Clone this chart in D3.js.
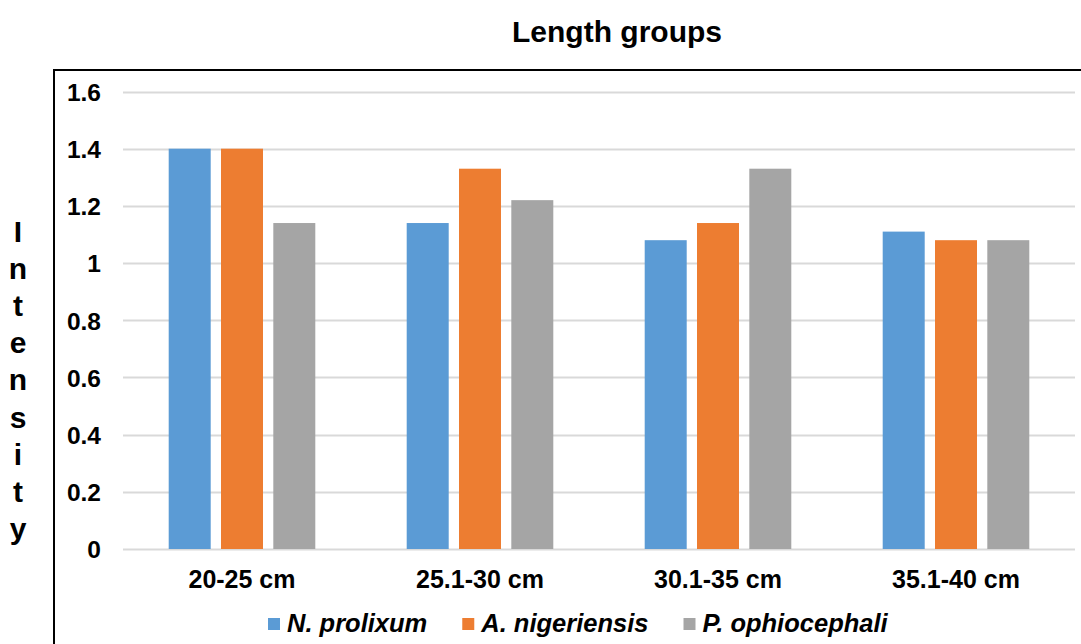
<!DOCTYPE html>
<html>
<head>
<meta charset="utf-8">
<script src="https://cdn.jsdelivr.net/npm/d3@7"></script>
<style>
  html, body { margin: 0; padding: 0; background: #fff; }
  svg { display: block; font-family: "Liberation Sans", Arial, sans-serif; }
</style>
</head>
<body>
<svg id="chart" width="1081" height="644"></svg>
<script>
// Length classes on the x axis
const categories = ["20-25 cm", "25.1-30 cm", "30.1-35 cm", "35.1-40 cm"];
// Parasite species shown in the legend
const seriesNames = ["N. prolixum", "A. nigeriensis", "P. ophiocephali"];
// Intensity per species, one value per length class
const nProlixum = [1.4, 1.14, 1.08, 1.11];
const aNigeriensis = [1.4, 1.33, 1.14, 1.08];
const pOphiocephali = [1.14, 1.22, 1.33, 1.08];
const yTicks = [0, 0.2, 0.4, 0.6, 0.8, 1, 1.2, 1.4, 1.6];
const yLabel = "Intensity";
const title = "Length groups";

const seriesValues = [nProlixum, aNigeriensis, pOphiocephali];
const colors = ["#5B9BD5", "#ED7D31", "#A5A5A5"];

const svg = d3.select("#chart");
const plot = { left: 123, right: 1075, top: 91.5, bottom: 549 };

// outer chart frame (extends past the right and bottom edges)
svg.append("rect")
  .attr("x", 54).attr("y", 70)
  .attr("width", 1100).attr("height", 700)
  .attr("fill", "none").attr("stroke", "#000").attr("stroke-width", 2);

svg.append("text")
  .attr("x", 617).attr("y", 42)
  .attr("text-anchor", "middle")
  .attr("font-weight", "bold").attr("font-size", 30)
  .text(title);

const y = d3.scaleLinear().domain([0, 1.6]).range([plot.bottom, plot.top]);
const x0 = d3.scaleBand().domain(categories).range([plot.left, plot.right]).padding(0);
const x1 = d3.scaleBand().domain(seriesNames).range([0, 146.6]).paddingInner(0.197).paddingOuter(0);
const groupOffset = (x0.bandwidth() - 146.6) / 2;

// gridlines
svg.append("g").selectAll("line").data(yTicks).join("line")
  .attr("x1", plot.left).attr("x2", plot.right)
  .attr("y1", d => Math.round(y(d)) + 0.5).attr("y2", d => Math.round(y(d)) + 0.5)
  .attr("stroke", "#d9d9d9").attr("stroke-width", 2);

// y axis tick labels
const yAxis = d3.axisLeft(y).tickValues(yTicks).tickSize(0).tickPadding(0)
  .tickFormat(d => d3.format("")(d));
const yg = svg.append("g").attr("transform", `translate(101,0)`).call(yAxis);
yg.select(".domain").remove();
yg.selectAll("text")
  .attr("font-family", "'Liberation Sans', Arial, sans-serif")
  .attr("font-size", 24.5).attr("font-weight", "bold").attr("fill", "#000")
  .attr("dy", "0.36em");

// bars
const groups = svg.append("g").selectAll("g").data(categories).join("g")
  .attr("transform", c => `translate(${x0(c) + groupOffset},0)`);
groups.selectAll("rect")
  .data((c, ci) => seriesNames.map((s, si) => ({ s, si, v: seriesValues[si][ci] })))
  .join("rect")
  .attr("x", d => x1(d.s))
  .attr("width", x1.bandwidth())
  .attr("y", d => y(d.v))
  .attr("height", d => y(0) - y(d.v))
  .attr("fill", d => colors[d.si]);

// x axis category labels
const xAxis = d3.axisBottom(x0).tickSize(0).tickPadding(0);
const xg = svg.append("g").attr("transform", `translate(0,${plot.bottom})`).call(xAxis);
xg.select(".domain").remove();
xg.selectAll("text")
  .attr("font-family", "'Liberation Sans', Arial, sans-serif")
  .attr("font-size", 25).attr("font-weight", "bold").attr("fill", "#000")
  .attr("y", 38.5).attr("dy", 0);

// vertical stacked y label
svg.append("g").selectAll("text").data(yLabel.split("")).join("text")
  .attr("x", 18).attr("y", (d, i) => 242 + i * 37.1)
  .attr("text-anchor", "middle")
  .attr("font-weight", "bold").attr("font-size", 30)
  .text(d => d);

// legend
const legend = svg.append("g");
let lx = 268;
seriesNames.forEach((name, i) => {
  legend.append("rect")
    .attr("x", lx).attr("y", 618).attr("width", 12).attr("height", 12)
    .attr("fill", colors[i]);
  const t = legend.append("text")
    .attr("x", lx + 19).attr("y", 632)
    .attr("font-weight", "bold").attr("font-style", "italic").attr("font-size", 25.5)
    .text(name);
  lx += 19 + t.node().getComputedTextLength() + 35;
});
</script>
</body>
</html>
